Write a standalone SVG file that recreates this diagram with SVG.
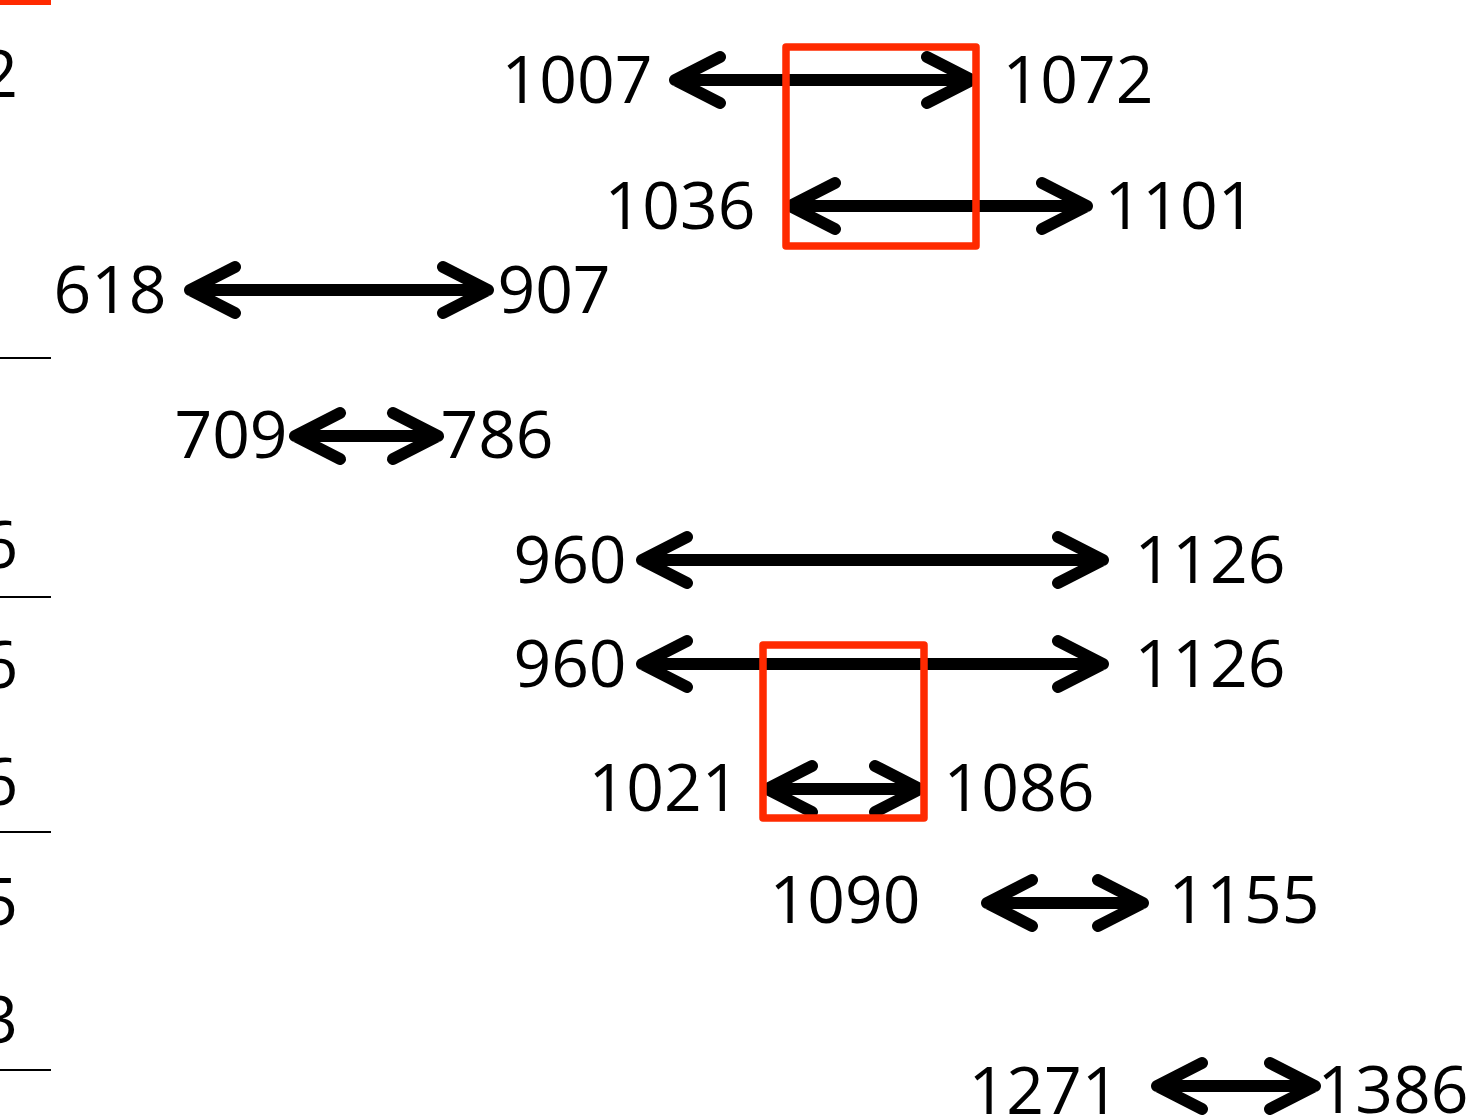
<svg xmlns="http://www.w3.org/2000/svg" width="1469" height="1118" viewBox="0 0 1469 1118">
<style>
.t{font-family:"Open Sans","Liberation Sans",sans-serif;font-size:66px;fill:#000;text-anchor:middle}
.e{font-family:"Open Sans","Liberation Sans",sans-serif;font-size:66px;fill:#000;text-anchor:end}
.a{fill:none;stroke:#000;stroke-width:12;stroke-linecap:round;stroke-linejoin:round}
.r{fill:none;stroke:#ff2a00;stroke-width:7.5;stroke-linejoin:round}
.l{stroke:#000;stroke-width:2}
</style>
<rect x="-5" y="-5" width="56" height="10" fill="#ff2a00"/>
<g id="left-edge">
<text class="e" x="18" y="97">2</text>
<line class="l" x1="0" y1="358" x2="51" y2="358"/>
<text class="e" x="18" y="568">6</text>
<line class="l" x1="0" y1="597" x2="51" y2="597"/>
<text class="e" x="18" y="688">6</text>
<text class="e" x="18" y="805">6</text>
<line class="l" x1="0" y1="832" x2="51" y2="832"/>
<text class="e" x="18" y="925">5</text>
<text class="e" x="18" y="1043">3</text>
<line class="l" x1="0" y1="1070" x2="51" y2="1070"/>
</g>
<g id="connectors">
<path class="a" d="M720 57 L675 80 L720 103 M675 80 H972 M927 57 L972 80 L927 103"/>
<path class="a" d="M835 183 L790 206 L835 229 M790 206 H1087 M1042 183 L1087 206 L1042 229"/>
<path class="a" d="M235 267 L190 290 L235 313 M190 290 H488 M443 267 L488 290 L443 313"/>
<path class="a" d="M340 413 L295 436 L340 459 M295 436 H438 M393 413 L438 436 L393 459"/>
<path class="a" d="M687 537 L642 560 L687 583 M642 560 H1103 M1058 537 L1103 560 L1058 583"/>
<path class="a" d="M687 641 L642 664 L687 687 M642 664 H1103 M1058 641 L1103 664 L1058 687"/>
<path class="a" d="M812 766 L767 789 L812 812 M767 789 H920 M875 766 L920 789 L875 812"/>
<path class="a" d="M1032 880 L987 903 L1032 926 M987 903 H1143 M1098 880 L1143 903 L1098 926"/>
<path class="a" d="M1202 1063 L1157 1086 L1202 1109 M1157 1086 H1315 M1270 1063 L1315 1086 L1270 1109"/>
</g>
<g id="box1"><rect class="r" x="786" y="47" width="190" height="199"/></g>
<g id="box2"><rect class="r" x="763" y="645" width="161" height="173"/></g>
<g id="n1007"><text class="t" x="577" y="103">1007</text></g>
<g id="n1072"><text class="t" x="1078" y="103">1072</text></g>
<g id="n1036"><text class="t" x="680" y="229">1036</text></g>
<g id="n1101"><text class="t" x="1180" y="229">1101</text></g>
<g id="n618"><text class="t" x="110" y="313">618</text></g>
<g id="n907"><text class="t" x="554" y="313">907</text></g>
<g id="n709"><text class="t" x="231" y="458">709</text></g>
<g id="n786"><text class="t" x="497" y="458">786</text></g>
<g id="n960a"><text class="t" x="570" y="583">960</text></g>
<g id="n1126a"><text class="t" x="1210" y="583">1126</text></g>
<g id="n960b"><text class="t" x="570" y="687">960</text></g>
<g id="n1126b"><text class="t" x="1210" y="687">1126</text></g>
<g id="n1021"><text class="t" x="664" y="811">1021</text></g>
<g id="n1086"><text class="t" x="1019" y="811">1086</text></g>
<g id="n1090"><text class="t" x="845" y="923">1090</text></g>
<g id="n1155"><text class="t" x="1244" y="923">1155</text></g>
<g id="n1271"><text class="t" x="1044" y="1114">1271</text></g>
<g id="n1386"><text class="t" x="1393" y="1113">1386</text></g>
</svg>
